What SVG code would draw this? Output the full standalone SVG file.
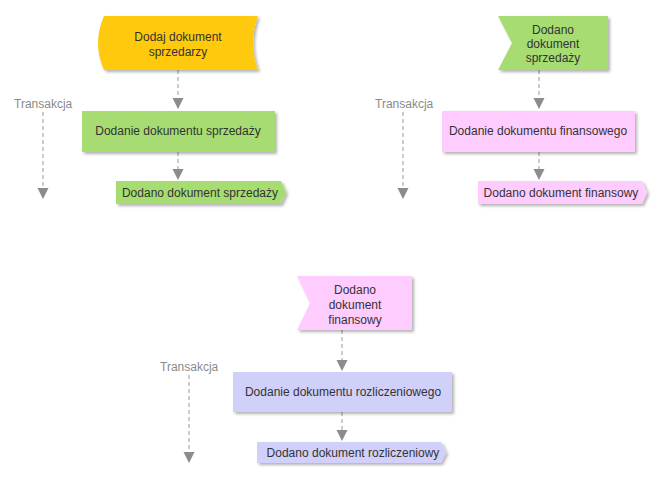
<svg xmlns="http://www.w3.org/2000/svg" width="669" height="486" viewBox="0 0 669 486">
<style>
text{font-family:"Liberation Sans",Arial,sans-serif;font-size:12px;fill:#333;text-anchor:middle}
.lbl{fill:#8a8a8a;text-anchor:start}
.con{stroke:#999;stroke-width:1;stroke-dasharray:4,3;fill:none}
.yel{fill:#FFC90E}
.grn{fill:#A6DC72}
.pnk{fill:#FFCCFF}
.lav{fill:#D0D0FA}
.sh{filter:url(#shadow)}
</style>
<defs>
<filter id="shadow" x="-10%" y="-20%" width="130%" height="160%">
<feDropShadow dx="2" dy="2" stdDeviation="1.5" flood-color="#000" flood-opacity="0.3"/>
</filter>
<marker id="ah" markerWidth="12" markerHeight="12" refX="10" refY="5.5" orient="auto" markerUnits="userSpaceOnUse">
<path d="M0,0 L11,5.5 L0,11 Z" fill="#8c8c8c"/>
</marker>
</defs>
<rect width="669" height="486" fill="#fff"/>

<g id="connectors">
<path class="con" d="M178,70 V108" marker-end="url(#ah)"/>
<path class="con" d="M178,152 V179" marker-end="url(#ah)"/>
<path class="con" d="M43,112 V198" marker-end="url(#ah)"/>
<path class="con" d="M539,70 V108" marker-end="url(#ah)"/>
<path class="con" d="M539,152 V179" marker-end="url(#ah)"/>
<path class="con" d="M403,112 V198" marker-end="url(#ah)"/>
<path class="con" d="M342,330 V370" marker-end="url(#ah)"/>
<path class="con" d="M342,412 V440" marker-end="url(#ah)"/>
<path class="con" d="M189,375 V462" marker-end="url(#ah)"/>
</g>

<g id="transakcja1"><text class="lbl" x="14" y="108">Transakcja</text></g>
<g id="transakcja2"><text class="lbl" x="375" y="108">Transakcja</text></g>
<g id="transakcja3"><text class="lbl" x="160" y="371">Transakcja</text></g>

<g id="n1">
<path class="yel sh" d="M104,16 L258,16 Q248,43 258,70 L104,70 Q92,43 104,16 Z"/>
<text x="178" y="41">Dodaj dokument</text>
<text x="178" y="56">sprzedarzy</text>
</g>
<g id="n2">
<rect class="grn sh" x="82" y="111" width="193" height="41"/>
<text x="178" y="135">Dodanie dokumentu sprzedaży</text>
</g>
<g id="n3">
<path class="grn sh" d="M116,181 L281,181 L286,192.5 L281,204 L116,204 Z"/>
<text x="200" y="197">Dodano dokument sprzedaży</text>
</g>

<g id="n4">
<path class="grn sh" d="M498,16 L608,16 L608,70 L498,70 L512,43 Z"/>
<text x="553" y="34">Dodano</text>
<text x="553" y="48">dokument</text>
<text x="553" y="62">sprzedaży</text>
</g>
<g id="n5">
<rect class="pnk sh" x="442" y="111" width="193" height="41"/>
<text x="538" y="135">Dodanie dokumentu finansowego</text>
</g>
<g id="n6">
<path class="pnk sh" d="M478,181 L642,181 L647,192.5 L642,204 L478,204 Z"/>
<text x="561" y="197">Dodano dokument finansowy</text>
</g>

<g id="n7">
<path class="pnk sh" d="M297,276 L412,276 L412,330 L297,330 L310,303 Z"/>
<text x="355" y="294">Dodano</text>
<text x="355" y="309">dokument</text>
<text x="355" y="324">finansowy</text>
</g>
<g id="n8">
<rect class="lav sh" x="233" y="372" width="219" height="40"/>
<text x="343" y="396">Dodanie dokumentu rozliczeniowego</text>
</g>
<g id="n9">
<path class="lav sh" d="M257,442 L441,442 L446,452.5 L441,463 L257,463 Z"/>
<text x="353" y="457">Dodano dokument rozliczeniowy</text>
</g>
</svg>
